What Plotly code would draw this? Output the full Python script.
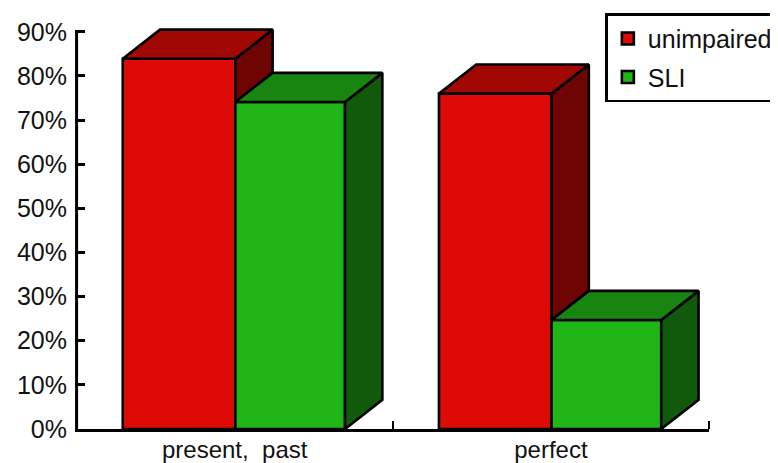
import plotly.graph_objects as go

categories = ["present,  past", "perfect"]
series_names = ["unimpaired", "SLI"]
unimpaired = [83.9, 76.0]
sli = [74.1, 24.7]
y_ticks = [0, 10, 20, 30, 40, 50, 60, 70, 80, 90]
y_labels = ["0%", "10%", "20%", "30%", "40%", "50%", "60%", "70%", "80%", "90%"]

LINE = 2.6
FONT = dict(family="Liberation Sans, Arial, sans-serif", size=25, color="#111111")
XFONT = dict(family="Liberation Sans, Arial, sans-serif", size=24, color="#111111")
DEPTH_X = 0.118
DEPTH_Y = 6.6
RED = ("#de0a05", "#a10804", "#6e0502")
GREEN = ("#20b618", "#178510", "#115a0c")
x_pos = list(range(len(categories)))

fig = go.Figure()
RED_OFF, MID_OFF, GREEN_END = -0.354, 0.002, 0.349
series = [
    (series_names[0], unimpaired, RED, RED_OFF, MID_OFF - RED_OFF),
    (series_names[1], sli, GREEN, MID_OFF, GREEN_END - MID_OFF),
]
for name, vals, cols, off, wid in series:
    fig.add_trace(go.Bar(
        x=x_pos, y=vals, name=name, width=wid, offset=off, legendgroup=name,
        marker=dict(color=cols[0], line=dict(color="black", width=LINE)),
    ))


def face(xs, ys, color):
    fig.add_trace(go.Scatter(
        x=xs, y=ys, mode="lines", fill="toself", fillcolor=color,
        line=dict(color="black", width=LINE), showlegend=False, hoverinfo="skip",
    ))


for i in x_pos:
    for k, (name, vals, cols, off, wid) in enumerate(series):
        l, r, v = i + off, i + off + wid, vals[i]
        # the side of the first bar is only visible above the bar standing in front of it
        low = sli[i] if k == 0 else 0
        face([r, r + DEPTH_X, r + DEPTH_X, r, r], [low, low + DEPTH_Y, v + DEPTH_Y, v, low], cols[2])
        face([l, l + DEPTH_X, r + DEPTH_X, r, l], [v, v + DEPTH_Y, v + DEPTH_Y, v, v], cols[1])

# value axis line stops at the last tick, while the plot area leaves room for the bar tops
fig.add_trace(go.Scatter(
    x=[-0.5, -0.5], y=[y_ticks[0], y_ticks[-1]], mode="lines",
    line=dict(color="black", width=3), showlegend=False, hoverinfo="skip",
))

fig.update_layout(
    width=770, height=455,
    margin=dict(l=67.4, r=69, t=14.7, b=34, autoexpand=False),
    paper_bgcolor="white", plot_bgcolor="white",
    font=FONT, barmode="overlay",
    legend=dict(
        x=0.8365, y=1.024, xanchor="left", yanchor="top",
        bgcolor="white", bordercolor="black", borderwidth=2.5,
        font=FONT, tracegroupgap=3, traceorder="grouped", itemclick=False,
    ),
)
fig.update_xaxes(
    range=[-0.505, 1.5], tickvals=x_pos, ticktext=categories, ticks="",
    showgrid=False, zeroline=False, showline=True, linecolor="black", linewidth=3,
    tickfont=XFONT, ticklabelstandoff=-3,
    minor=dict(tickvals=[0.5, 1.5], ticks="inside", ticklen=8, tickwidth=2, tickcolor="black"),
)
fig.update_yaxes(
    range=[0, 92], tickvals=y_ticks, ticktext=y_labels, ticks="inside", ticklen=10,
    tickwidth=3, tickcolor="black", showgrid=False, zeroline=False, showline=False,
    tickfont=FONT, ticklabelstandoff=7,
)
fig.write_html("out.html", config=dict(displayModeBar=False))
